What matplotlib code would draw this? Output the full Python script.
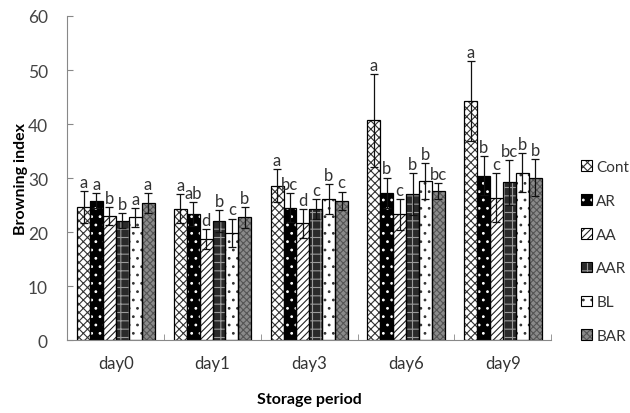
import matplotlib
matplotlib.use('Agg')
import matplotlib.pyplot as plt
import numpy as np

plt.rcParams['font.family'] = ['Lato', 'DejaVu Sans']
plt.rcParams['hatch.linewidth'] = 0.8

days = ['day0', 'day1', 'day3', 'day6', 'day9']
treatments = ['Cont', 'AR', 'AA', 'AAR', 'BL', 'BAR']

# mean browning index per treatment (rows) and day (columns)
cont = [24.6, 24.3, 28.6, 40.7, 44.3]
ar = [25.8, 23.3, 24.5, 27.3, 30.4]
aa = [23.0, 18.7, 21.6, 23.3, 26.4]
aar = [22.1, 22.1, 24.3, 27.0, 29.2]
bl = [22.7, 19.9, 26.1, 29.5, 31.0]
bar_ = [25.4, 22.7, 25.8, 27.6, 30.1]

# standard deviations
cont_sd = [3.0, 2.7, 3.1, 8.6, 7.4]
ar_sd = [1.4, 2.2, 2.7, 2.8, 3.6]
aa_sd = [1.6, 1.8, 2.7, 2.9, 4.5]
aar_sd = [1.4, 2.0, 1.9, 3.9, 4.2]
bl_sd = [1.7, 2.6, 2.8, 3.3, 3.6]
bar_sd = [1.8, 1.9, 1.7, 1.5, 3.4]

# significance letters
cont_lab = ['a', 'a', 'a', 'a', 'a']
ar_lab = ['a', 'ab', 'bc', 'b', 'b']
aa_lab = ['b', 'd', 'd', 'c', 'c']
aar_lab = ['b', 'b', 'c', 'b', 'bc']
bl_lab = ['a', 'c', 'b', 'b', 'b']
bar_lab = ['a', 'b', 'c', 'bc', 'b']

means = [cont, ar, aa, aar, bl, bar_]
sds = [cont_sd, ar_sd, aa_sd, aar_sd, bl_sd, bar_sd]
labs = [cont_lab, ar_lab, aa_lab, aar_lab, bl_lab, bar_lab]

# (face, hatch, hatch colour)
styles = [('white', 'xxxx', '#333333'),
          ('black', '..', 'white'),
          ('white', '/////', '#222222'),
          ('#2a2a2a', '++', '#9a9a9a'),
          ('white', '..', '#333333'),
          ('#8a8a8a', 'xxxxx', '#555555')]

fig = plt.figure(figsize=(6.3, 4.14), dpi=100)
ax = fig.add_axes([0.107, 0.176, 0.768, 0.783])

x = np.arange(len(days))
w = 0.8 / 6
handles = []
for i in range(6):
    pos = x - 0.4 + w * (i + 0.5)
    fc, h, hc = styles[i]
    ax.bar(pos, means[i], w, color=fc, edgecolor=hc, hatch=h, linewidth=0, zorder=2)
    ax.bar(pos, means[i], w, color='none', edgecolor='black', linewidth=0.9, zorder=3)
    ax.errorbar(pos, means[i], yerr=sds[i], fmt='none', ecolor='#111111',
                elinewidth=0.9, capsize=3, capthick=0.9, zorder=4)
    for p, m, s, t in zip(pos, means[i], sds[i], labs[i]):
        ax.text(p, m + s + 0.2, t, ha='center', va='bottom', fontsize=12, color='#333333')
    hb = plt.Rectangle((0, 0), 1, 1, facecolor=fc, edgecolor=hc, hatch=h, linewidth=0)
    frame = plt.Rectangle((0, 0), 1, 1, facecolor='none', edgecolor='black', linewidth=0.8)
    handles.append((hb, frame))

ax.set_xlim(-0.5, len(days) - 0.5)
ax.set_ylim(0, 60)
ax.set_yticks(range(0, 61, 10))
ax.set_xticks(x)
ax.set_xticklabels(days)
ax.set_xticks(np.arange(-0.5, len(days)), minor=True)
ax.tick_params(axis='x', which='major', length=0, pad=11, labelsize=12, labelcolor='#333333')
ax.tick_params(axis='x', which='minor', direction='in', length=4, color='#888888')
ax.tick_params(axis='y', direction='in', length=4, color='#888888', labelsize=12.5,
               labelcolor='#444444', pad=14)
for s in ['top', 'right']:
    ax.spines[s].set_visible(False)
for s in ['left', 'bottom']:
    ax.spines[s].set_color('#888888')

ax.set_ylabel('Browning index', fontsize=11.5, fontweight='bold', labelpad=0)
ax.set_xlabel('Storage period', fontsize=11.5, fontweight='bold', labelpad=15)

leg = fig.legend(handles, treatments, loc='center left', bbox_to_anchor=(0.922, 0.39),
                 frameon=False, fontsize=11, handlelength=0.7, handleheight=0.7,
                 labelspacing=1.3, handletextpad=0.3, borderaxespad=0, borderpad=0)
for t in leg.get_texts():
    t.set_color('#333333')

fig.savefig('out.png', dpi=100)
